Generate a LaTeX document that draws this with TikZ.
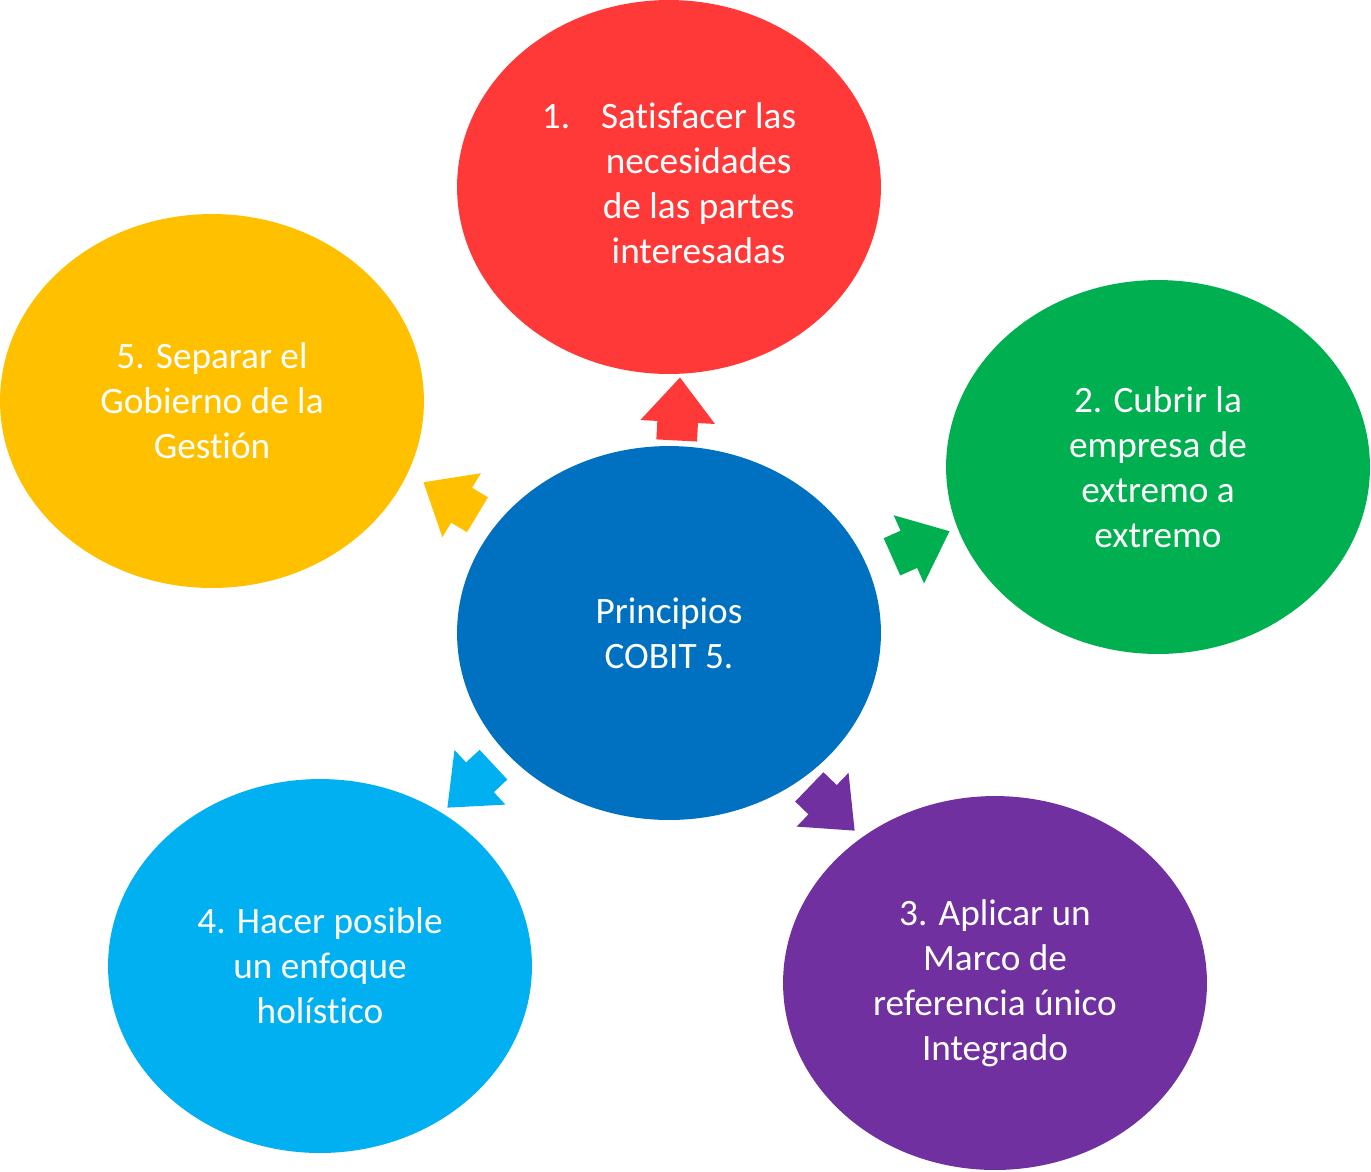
\documentclass[tikz,border=0pt]{standalone}
\usepackage{fontspec}
\setmainfont{Carlito}[Ligatures={NoCommon,NoRare},RawFeature={-liga;-clig}]
\usetikzlibrary{shapes.geometric,shapes.arrows}

\definecolor{cobitred}{HTML}{FF3838}
\definecolor{cobitblue}{HTML}{0070C0}
\definecolor{cobitgreen}{HTML}{00B050}
\definecolor{cobitpurple}{HTML}{7030A0}
\definecolor{cobitcyan}{HTML}{00B0F0}
\definecolor{cobityellow}{HTML}{FFC000}

\tikzset{
  bubble/.style={ellipse,fill=#1,minimum width=8.48cm,minimum height=7.48cm,
    inner sep=0pt,text=white,align=center,font=\fontsize{21.2}{25.6}\selectfont},
  blockarrow/.style={single arrow,fill=#1,inner xsep=0pt,inner ysep=.4cm,
    minimum height=1.26cm,single arrow head extend=.34cm,
    single arrow tip angle=80,anchor=tip}
}

\begin{document}
\begin{tikzpicture}[x=.02cm,y=-.02cm]
\useasboundingbox (0,0) rectangle (1371,1171);

\node (cen) [bubble=cobitblue] at (669,633) {Principios\\COBIT 5.};
\node (sat) [bubble=cobitred] at (669,187)
    {\raisebox{-.08cm}{\begin{tabular}{@{}l@{\hspace{.62cm}}c@{}}
     1. & Satisfacer las\\ & necesidades\\ & de las partes\\ & interesadas
     \end{tabular}}};
\node (cub) [bubble=cobitgreen] at (1158,467)
    {2. Cubrir la\\empresa de\\extremo a\\extremo};
\node (apl) [bubble=cobitpurple] at (995,983)
    {3. Aplicar un\\Marco de\\referencia único\\Integrado};
\node (hac) [bubble=cobitcyan] at (320,966)
    {4. Hacer posible\\un enfoque\\holístico};
\node (sep) [bubble=cobityellow] at (212,401)
    {5. Separar el\\Gobierno de la\\Gestión};

\node (a1) [blockarrow=cobitred,rotate=87] at (680,377) {};
\node (a2) [blockarrow=cobitgreen,rotate=24] at (950,531) {};
\node (a3) [blockarrow=cobitpurple,rotate=-44] at (855,831) {};
\node (a4) [blockarrow=cobitcyan,rotate=-137] at (447,808) {};
\node (a5) [blockarrow=cobityellow,rotate=149] at (423,482) {};
\end{tikzpicture}
\end{document}
